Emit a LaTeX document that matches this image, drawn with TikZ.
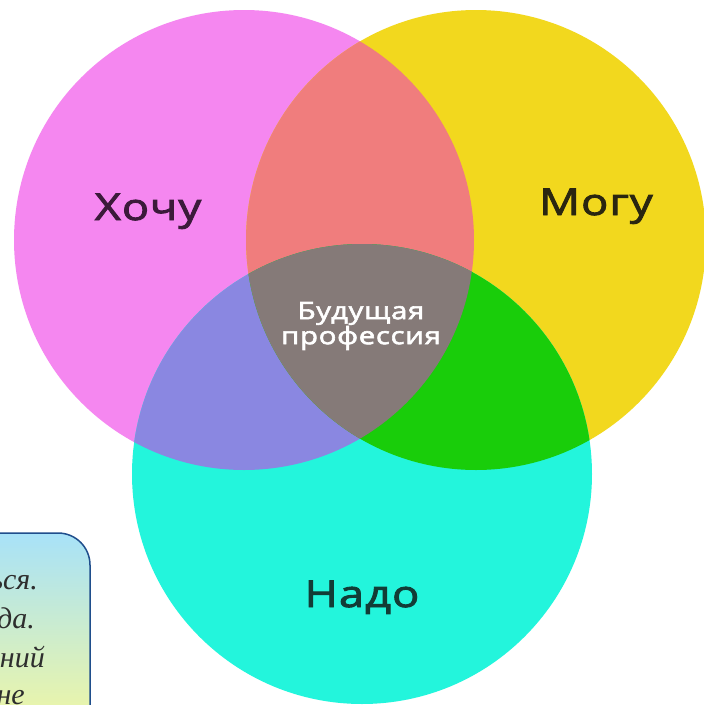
\documentclass[tikz,border=0pt]{standalone}
\usepackage{fontspec}
\newfontfamily\vennfont[FakeStretch=1.22,FakeBold=2.5,LetterSpace=3]{Open Sans}
\newfontfamily\notefont{Liberation Serif}
\usetikzlibrary{positioning}
\definecolor{want}{HTML}{F587F0}
\definecolor{can}{HTML}{F2D81E}
\definecolor{must}{HTML}{23F5DC}
\definecolor{wantcan}{HTML}{F07D7D}
\definecolor{wantmust}{HTML}{8A87E1}
\definecolor{canmust}{HTML}{19CD0A}
\definecolor{allthree}{HTML}{857A78}
\definecolor{wanttext}{HTML}{3B1A3A}
\definecolor{cantext}{HTML}{2A2610}
\definecolor{musttext}{HTML}{123C36}
\definecolor{noteblue}{HTML}{1F4E8C}
\definecolor{notetop}{HTML}{A8E2F8}
\definecolor{notebottom}{HTML}{F6F89C}
\definecolor{notegray}{HTML}{2E2E2E}
\tikzstyle{ring}=[circle,inner sep=0pt,minimum size=460pt]
\tikzstyle{word}=[anchor=base,inner sep=0pt,font=\vennfont\fontsize{37}{42}\selectfont]
\tikzstyle{notebox}=[rounded corners=32pt,draw=noteblue,line width=1.5pt,top color=notetop,bottom color=notebottom]
\tikzstyle{notetext}=[anchor=base east,inner sep=0pt,text=notegray,font=\notefont\itshape\fontsize{30}{34}\selectfont]

\begin{document}
\begin{tikzpicture}[x=1pt,y=-1pt]
\useasboundingbox (0,0) rectangle (704,705);
\clip (0,0) rectangle (704,705);
\fill[white] (0,0) rectangle (704,705);
% the three circles
\node[ring,fill=want] (w) at (244,240) {};
\node[ring,fill=can] (c) at (476,240) {};
\node[ring,fill=must] (m) at (362,474) {};
% overlaps
\begin{scope}
  \clip (w.center) circle (230pt);
  \fill[wantcan] (c.center) circle (230pt);
  \fill[wantmust] (m.center) circle (230pt);
\end{scope}
\begin{scope}
  \clip (c.center) circle (230pt);
  \fill[canmust] (m.center) circle (230pt);
  \clip (w.center) circle (230pt);
  \fill[allthree] (m.center) circle (230pt);
\end{scope}
\node[word,text=wanttext] (hochu) at (148,220) {Хочу};
\node[word,text=cantext] (mogu) at (596,215) {Могу};
\node[word,text=musttext] (nado) at (362,607) {Надо};
\node[align=center,inner sep=0pt,text=white,font=\vennfont\fontsize{24}{25}\selectfont] (prof) at (361,326) {Будущая\\профессия};
% note box, cut at the edge
\draw[notebox] (-60,533) rectangle (90,745);
\node[notetext] (l1) at (38,589) {ься.};
\node[notetext] (l2) at (35,628) {да.};
\node[notetext] (l3) at (45,667) {ний};
\node[notetext] (l4) at (25,704) {не};
\end{tikzpicture}
\end{document}
